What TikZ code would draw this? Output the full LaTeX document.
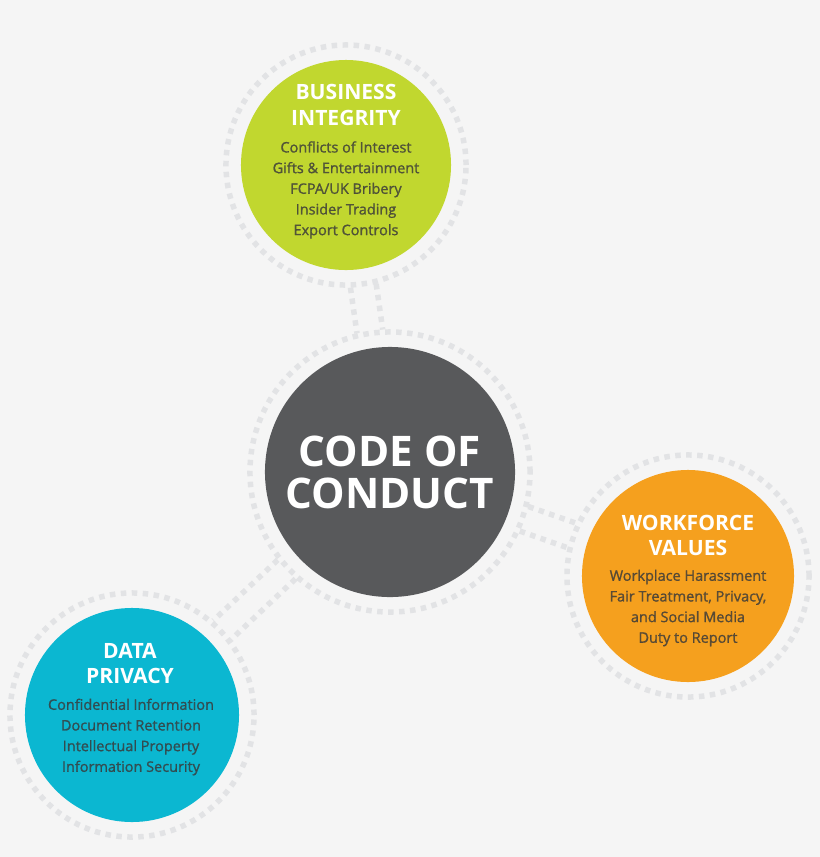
\documentclass[tikz,border=0pt]{standalone}
\usepackage{fontspec}
\setmainfont{Open Sans}
\newfontfamily\itemfont{Open Sans}[RawFeature={embolden=1.2}]
\usetikzlibrary{calc}
\definecolor{bggray}{HTML}{F5F5F5}
\definecolor{dotgray}{HTML}{E2E3E5}
\definecolor{codegray}{HTML}{58595B}
\definecolor{bizgreen}{HTML}{C1D72F}
\definecolor{workorange}{HTML}{F5A01E}
\definecolor{datablue}{HTML}{0BB7D1}
\definecolor{itemgray}{HTML}{3A3A3A}

\begin{document}
\begin{tikzpicture}[x=0.025cm, y=-0.025cm,
	dots/.style={draw=dotgray, line width=3.9pt, dash pattern=on 3.9pt off 3.9pt},
	ring/.style={circle, dots, inner sep=0pt},
	topic/.style={circle, inner sep=0pt, minimum size=5.3cm},
	heading/.style={text=white, align=center, inner sep=0pt, font=\fontsize{15}{18.4}\selectfont\bfseries},
	items/.style={text=itemgray, text opacity=0.8, align=center, inner sep=0pt, font=\itemfont\fontsize{10.3}{14.7}\selectfont}]
	\fill [bggray] (0,0) rectangle (820,857);
	% dotted rings
	\node [ring, minimum size=7cm] (codering) at (390,472) {};
	\node [ring, minimum size=6cm] (bizring) at (346,165) {};
	\node [ring, minimum size=6.05cm] (workring) at (688,576) {};
	\node [ring, minimum size=6.1cm] (dataring) at (132,715) {};
	% double dotted links
	\foreach \a/\b in {90/-90,-90/90} {
		\draw [dots, shorten <=3.05cm, shorten >=3.55cm] ($(bizring.center)!0.325cm!\a:(codering.center)$) -- ($(codering.center)!0.325cm!\b:(bizring.center)$);
		\draw [dots, shorten <=3.55cm, shorten >=3.08cm] ($(codering.center)!0.325cm!\a:(workring.center)$) -- ($(workring.center)!0.325cm!\b:(codering.center)$);
		\draw [dots, shorten <=3.55cm, shorten >=3.1cm] ($(codering.center)!0.325cm!\a:(dataring.center)$) -- ($(dataring.center)!0.325cm!\b:(codering.center)$);
	}
	% filled circles
	\node [topic, fill=codegray, minimum size=6.25cm, text=white, align=center, font=\fontsize{30}{29.8}\selectfont\bfseries] (code) at (codering) {CODE OF\\CONDUCT};
	\node [topic, fill=bizgreen, minimum size=5.25cm] (biz) at (bizring) {};
	\node [topic, fill=workorange] (work) at (workring) {};
	\node [topic, fill=datablue, minimum size=5.35cm] (data) at (dataring) {};
	\node [heading] (biztitle) at (346,105) {BUSINESS\\INTEGRITY};
	\node [items] (bizitems) at (346,190) {Conflicts of Interest\\Gifts \& Entertainment\\FCPA/UK Bribery\\Insider Trading\\Export Controls};
	\node [heading] (worktitle) at (688,535.5) {WORKFORCE\\VALUES};
	\node [items] (workitems) at (688,608) {Workplace Harassment\\Fair Treatment, Privacy,\\and Social Media\\Duty to Report};
	\node [heading] (datatitle) at (130,663.5) {DATA\\PRIVACY};
	\node [items] (dataitems) at (131,737) {Confidential Information\\Document Retention\\Intellectual Property\\Information Security};
\end{tikzpicture}
\end{document}
